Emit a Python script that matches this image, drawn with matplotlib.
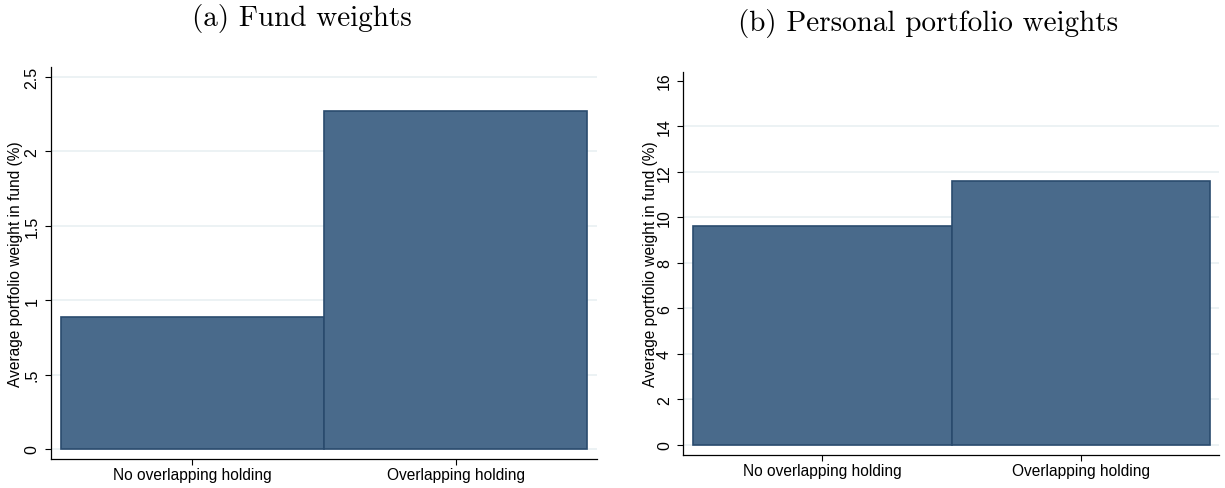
import matplotlib.pyplot as plt
import numpy as np

plt.rcParams['font.family'] = ['Liberation Sans', 'DejaVu Sans']

groups = ['No overlapping holding', 'Overlapping holding']
fund_w = [0.889, 2.272]
personal_w = [9.63, 11.59]

fund_ticks = [0, 0.5, 1, 1.5, 2, 2.5]
fund_ticklabels = ['0', '.5', '1', '1.5', '2', '2.5']
pers_ticks = [0, 2, 4, 6, 8, 10, 12, 14, 16]
pers_ticklabels = ['0', '2', '4', '6', '8', '10', '12', '14', '16']

bar_col = '#496a8b'
edge_col = '#2a4b6e'
grid_col = '#e9f0f2'
ylab = 'Average portfolio weight in fund (%)'

fig = plt.figure(figsize=(12.25, 4.89), dpi=100)
ax1 = fig.add_axes([0.0414, 0.0593, 0.4457, 0.8010])
ax2 = fig.add_axes([0.5578, 0.0675, 0.4376, 0.7838])


def panel(ax, vals, ticks, ticklabels, ylim, labx, nogrid=()):
    x = np.arange(len(vals))
    ax.bar(x, vals, width=1.0, color=bar_col, edgecolor=edge_col,
           linewidth=1.2, zorder=3)
    ax.set_xlim(-0.538, 1.535)
    ax.set_ylim(*ylim)
    ax.set_xticks(x)
    ax.set_xticklabels(groups, fontsize=11.2)
    ax.set_yticks(ticks)
    ax.set_yticklabels(ticklabels, fontsize=11.5, rotation=90, va='center')
    # stata-style light grid, skipped at the top tick on the right panel
    for t in ticks:
        if t not in nogrid:
            ax.axhline(t, color=grid_col, lw=1.2, zorder=1)
    ax.set_ylabel(ylab, fontsize=11.2)
    ax.yaxis.set_label_coords(labx, 0.5)
    for s in ['top', 'right']:
        ax.spines[s].set_visible(False)
    ax.spines['left'].set_linewidth(0.9)
    ax.spines['bottom'].set_linewidth(0.9)
    ax.tick_params(axis='y', length=4.2, width=0.8, pad=4)
    ax.tick_params(axis='x', length=4.2, width=0.8, pad=1.5)


panel(ax1, fund_w, fund_ticks, fund_ticklabels, (-0.067, 2.563), -0.0513)
panel(ax2, personal_w, pers_ticks, pers_ticklabels, (-0.44, 16.39), -0.0478,
      nogrid=(16,))

fig.text(0.2465, 1 - 26 / 489, '(a) Fund weights', fontname='cmr10',
         fontsize=21, ha='center', va='baseline')
fig.text(0.758, 1 - 30.5 / 489, '(b) Personal portfolio weights',
         fontname='cmr10', fontsize=21, ha='center', va='baseline')

fig.savefig('out.png', dpi=100)
